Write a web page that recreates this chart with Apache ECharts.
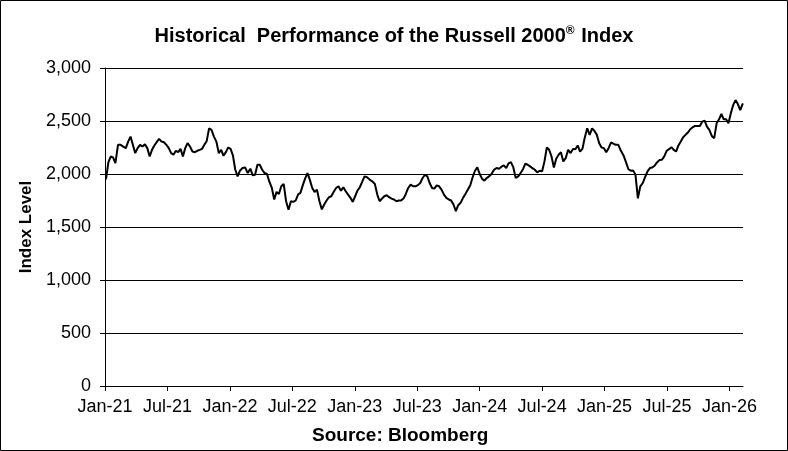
<!DOCTYPE html>
<html>
<head>
<meta charset="utf-8">
<script src="https://cdn.jsdelivr.net/npm/echarts@6/dist/echarts.min.js"></script>
<style>
html,body{margin:0;padding:0;background:#fff;}
#chart{width:788px;height:451px;}
</style>
</head>
<body>
<div id="chart"></div>
<script>
// Weekly index levels, starting Monday 2021-01-04
var startDate = '2021-01-04';
var values = [
1950,2110,2165,2156,2103,2275,2275,2259,2244,2306,
2353,2275,2197,2244,2275,2259,2281,2244,2165,2228,
2269,2300,2331,2306,2300,2275,2244,2197,2181,2219,
2206,2237,2165,2244,2291,2259,2212,2206,2219,2228,
2237,2275,2312,2431,2416,2353,2306,2197,2228,2172,
2206,2250,2237,2175,2040,1978,2031,2056,2062,2009,
2050,1987,1993,2087,2087,2040,2009,2000,1925,1868,
1759,1831,1812,1884,1906,1743,1662,1743,1737,1750,
1806,1822,1893,1956,2009,1947,1870,1830,1853,1743,
1666,1712,1750,1781,1790,1831,1868,1884,1843,1875,
1837,1806,1775,1737,1790,1843,1875,1925,1978,1969,
1947,1931,1906,1806,1743,1768,1790,1800,1781,1768,
1759,1743,1750,1750,1768,1812,1868,1900,1884,1884,
1895,1915,1962,1993,1978,1915,1868,1862,1893,1884,
1853,1806,1775,1759,1750,1712,1650,1706,1728,1775,
1812,1853,1893,1969,2031,2062,2000,1956,1937,1962,
1978,2000,2040,2056,2050,2069,2081,2056,2100,2112,
2062,1962,1978,2009,2045,2097,2087,2072,2056,2040,
2015,2031,2025,2119,2250,2228,2165,2062,2144,2181,
2206,2119,2150,2228,2197,2237,2234,2269,2212,2237,
2344,2431,2369,2431,2406,2369,2291,2250,2244,2206,
2244,2297,2287,2275,2275,2219,2175,2110,2045,2031,
2034,1994,1770,1884,1915,1972,2025,2056,2062,2078,
2109,2131,2134,2166,2219,2234,2253,2228,2212,2269,
2306,2347,2369,2391,2422,2441,2453,2453,2453,2494,
2503,2447,2416,2359,2338,2478,2516,2566,2516,2516,
2478,2572,2650,2697,2660,2603,2666
];
var tickLabels = ['Jan-21','Jul-21','Jan-22','Jul-22','Jan-23','Jul-23','Jan-24','Jul-24','Jan-25','Jul-25','Jan-26'];

// build weekly dates
var dates = [];
var d0 = new Date(startDate + 'T00:00:00Z');
for (var i = 0; i < values.length; i++) {
  var d = new Date(d0.getTime() + i * 7 * 86400000);
  dates.push(d.toISOString().slice(0,10));
}
function monthsSinceStart(s) {
  var y = +s.slice(0,4), m = +s.slice(5,7), day = +s.slice(8,10);
  var dim = new Date(Date.UTC(y, m, 0)).getUTCDate();
  return (y - 2021) * 12 + (m - 1) + (day - 1) / dim;
}
var seriesData = dates.map(function (s, i) { return [monthsSinceStart(s), values[i]]; });
var tickValues = tickLabels.map(function (_, i) { return i * 6; });

var chart = echarts.init(document.getElementById('chart'), null, {renderer: 'canvas'});
var FONT = 'Liberation Sans, Arial, sans-serif';
chart.setOption({
  animation: false,
  backgroundColor: '#fff',
  title: {
    text: '{t|Historical  Performance of the Russell 2000}{s|®}{t| Index}',
    left: 'center',
    top: 20,
    textStyle: {
      rich: {
        t: {fontFamily: FONT, fontWeight: 'bold', fontSize: 20, color: '#000'},
        s: {fontFamily: FONT, fontWeight: 'bold', fontSize: 12, color: '#000', verticalAlign: 'top', padding: [0,1,10,0]}
      }
    }
  },
  grid: {left: 105, right: 45, top: 68, bottom: 65, containLabel: false},
  xAxis: {
    type: 'value',
    min: 0,
    max: 61.3,
    axisLine: {show: true, lineStyle: {color: '#000', width: 1}},
    axisTick: {show: true, length: 5, inside: false, lineStyle: {color: '#000'}, customValues: tickValues},
    axisLabel: {
      customValues: tickValues,
      color: '#000', fontFamily: FONT, fontSize: 18, margin: 12,
      formatter: function (v) { var k = Math.round(v / 6); return tickLabels[k] || ''; }
    },
    splitLine: {show: false}
  },
  yAxis: {
    type: 'value',
    min: 0,
    max: 3000,
    interval: 500,
    name: 'Index Level',
    nameLocation: 'middle',
    nameGap: 68,
    nameTextStyle: {fontFamily: FONT, fontWeight: 'bold', fontSize: 17, color: '#000'},
    axisLine: {show: true, lineStyle: {color: '#000', width: 1}},
    axisTick: {show: true, length: 5, inside: false, lineStyle: {color: '#000'}},
    axisLabel: {
      color: '#000', fontFamily: FONT, fontSize: 18, margin: 14,
      formatter: function (v) { return v.toString().replace(/\B(?=(\d{3})+(?!\d))/g, ','); }
    },
    splitLine: {show: true, lineStyle: {color: '#000', width: 1}}
  },
  graphic: [
    {type: 'rect', shape: {x: 0.5, y: 0.5, width: 787, height: 450}, style: {fill: 'none', stroke: '#000', lineWidth: 1}, silent: true},
    {type: 'text', left: 312, top: 426, style: {text: 'Source: Bloomberg', font: 'bold 19px ' + FONT, fill: '#000'}}
  ],
  series: [{
    type: 'line',
    data: seriesData,
    showSymbol: false,
    symbol: 'none',
    lineStyle: {color: '#000', width: 2},
    clip: true
  }]
});
</script>
</body>
</html>
